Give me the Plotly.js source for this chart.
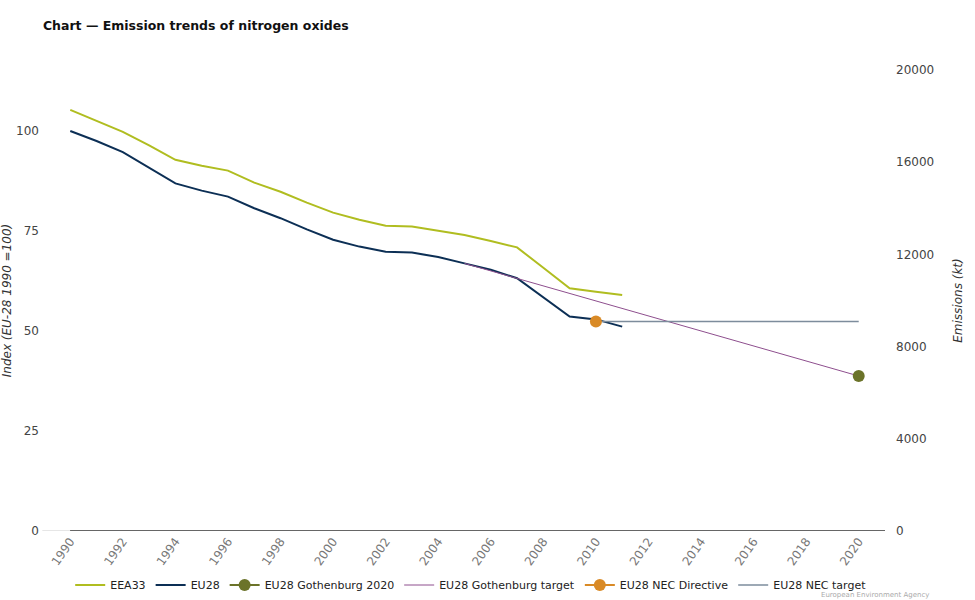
<!DOCTYPE html>
<html><head><meta charset="utf-8">
<script src="https://cdn.plot.ly/plotly-3.0.1.min.js"></script>
<style>html,body{margin:0;padding:0;background:#fff}#chart{width:975px;height:600px}</style>
</head><body><div id="chart"></div>
<script>
const years = [1990,1991,1992,1993,1994,1995,1996,1997,1998,1999,2000,2001,2002,2003,2004,2005,2006,2007,2008,2009,2010,2011];
const eea33 = [105.3,102.6,99.8,96.4,92.8,91.3,90.1,87.1,84.8,82.1,79.6,77.8,76.3,76.1,75.1,74.0,72.5,70.9,65.8,60.7,59.8,59.0];
const eu28  = [100.0,97.5,94.7,90.8,86.9,85.1,83.6,80.7,78.2,75.4,72.8,71.1,69.8,69.6,68.5,66.9,65.3,63.2,58.4,53.6,52.9,51.1];
const gothTargetYears = [2005,2020];
const gothTargetVals = [66.9,38.75];
const goth2020Years = [2020];
const goth2020Vals = [38.75];
const necDirYears = [2010];
const necDirVals = [52.4];
const necTargetYears = [2010,2020];
const necTargetVals = [52.4,52.4];
const xTicks = [1990,1992,1994,1996,1998,2000,2002,2004,2006,2008,2010,2012,2014,2016,2018,2020];
const y2Ticks = [0,4000,8000,12000,16000,20000];

const F = 'DejaVu Sans, Verdana, sans-serif';
const traces = [
  {x: years, y: eea33, name: 'EEA33', mode: 'lines', legendrank: 1, line: {color: '#b0bd20', width: 2}},
  {x: years, y: eu28, name: 'EU28', mode: 'lines', legendrank: 2, line: {color: '#0c2f55', width: 2}},
  {x: goth2020Years, y: goth2020Vals, name: 'EU28 Gothenburg 2020', mode: 'lines+markers', legendrank: 3,
   line: {color: '#6b7329', width: 2}, marker: {color: '#6b7329', size: 12}},
  {x: gothTargetYears, y: gothTargetVals, name: 'EU28 Gothenburg target', mode: 'lines', legendrank: 4,
   line: {color: '#8e4f8e', width: 1}},
  {x: necDirYears, y: necDirVals, name: 'EU28 NEC Directive', mode: 'lines+markers', legendrank: 5,
   line: {color: '#d98a26', width: 2}, marker: {color: '#d98a26', size: 12}},
  {x: necTargetYears, y: necTargetVals, name: 'EU28 NEC target', mode: 'lines', legendrank: 6,
   line: {color: '#7d8c9c', width: 1.5}},
  {x: [], y: [], yaxis: 'y2', showlegend: false, hoverinfo: 'skip', mode: 'lines'}
];
// draw order: markers on top of the lines
const order = [0,1,3,5,2,4,6];
const data = order.map(i => traces[i]);

const layout = {
  width: 975, height: 600,
  margin: {l: 44, r: 90, t: 70, b: 69, autoexpand: false},
  paper_bgcolor: '#fff', plot_bgcolor: '#fff',
  font: {family: F, color: '#333', size: 12},
  showlegend: true,
  title: {text: '<b>Chart — Emission trends of nitrogen oxides</b>', x: 0.044, xanchor: 'left', xref: 'container',
          y: 0.958, yanchor: 'middle', yref: 'container', font: {family: F, size: 12.5, color: '#111'}},
  xaxis: {range: [1989, 2021], tickvals: xTicks, ticktext: xTicks.map(String), tickangle: -55, automargin: false,
          showgrid: false, zeroline: false, showline: false, ticks: '', tickfont: {size: 12, color: '#777'}},
  yaxis: {range: [0, 115.25], tickvals: [0,25,50,75,100], showgrid: false, zeroline: false, automargin: false,
          ticks: '', tickfont: {size: 12, color: '#444'}, ticklabelstandoff: 4,
          title: {text: 'Index (EU-28 1990 =100)', font: {size: 12, color: '#333', style: 'italic'}, standoff: 10}},
  yaxis2: {overlaying: 'y', side: 'right', range: [0, 20000], tickvals: y2Ticks, ticktext: y2Ticks.map(String),
           showgrid: false, zeroline: false, ticks: '', automargin: false, tickfont: {size: 12, color: '#444'}, ticklabelstandoff: 10,
           title: {text: 'Emissions (kt)', font: {size: 12, color: '#333', style: 'italic'}, standoff: 20}},
  legend: {orientation: 'h', xref: 'container', yref: 'container', x: 0.072, xanchor: 'left', y: 0.025, yanchor: 'middle',
           font: {family: F, size: 11, color: '#222'}, bgcolor: 'rgba(0,0,0,0)'},
  shapes: [
    {type: 'line', xref: 'paper', yref: 'y', x0: -0.002, x1: 0.031, y0: 0, y1: 0, line: {color: '#ccc', width: 1}},
    {type: 'line', xref: 'paper', yref: 'y', x0: 0.031, x1: 1, y0: 0, y1: 0, line: {color: '#333', width: 1.5}}
  ],
  annotations: [
    {text: 'European Environment Agency', xref: 'paper', yref: 'paper', x: 1.0535, y: -0.149, xanchor: 'right', yanchor: 'bottom',
     showarrow: false, borderpad: 0, font: {family: F, size: 7, color: '#aaaaaa'}}
  ]
};
Plotly.newPlot('chart', data, layout, {displayModeBar: false, staticPlot: true});
</script></body></html>
